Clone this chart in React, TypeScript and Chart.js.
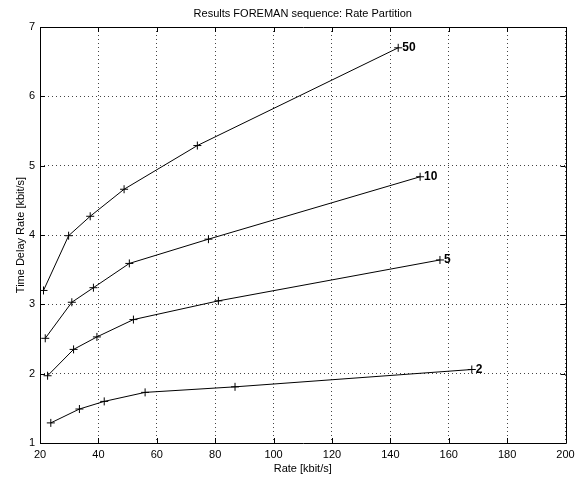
import React, { useEffect, useRef } from "react";
import { Chart, registerables } from "chart.js";

Chart.register(...registerables);

const chartTitle = "Results FOREMAN sequence: Rate Partition";
const xTitle = "Rate [kbit/s]";
const yTitle = "Time Delay Rate [kbit/s]";

const seriesNames = ["50", "10", "5", "2"];

const rate50 = [21.2, 29.8, 37.2, 48.8, 73.9, 142.7];
const delay50 = [3.2, 3.99, 4.27, 4.66, 5.29, 6.7];

const rate10 = [21.8, 30.9, 38.3, 50.6, 77.7, 150.2];
const delay10 = [2.51, 3.03, 3.24, 3.59, 3.94, 4.84];

const rate5 = [22.6, 31.5, 39.5, 52.0, 81.1, 157.0];
const delay5 = [1.97, 2.35, 2.53, 2.78, 3.05, 3.64];

const rate2 = [23.7, 33.5, 42.0, 56.0, 86.8, 167.9];
const delay2 = [1.29, 1.49, 1.6, 1.73, 1.81, 2.06];

const xRange = [20, 200];
const xStep = 20;
const yRange = [1, 7];
const yStep = 1;

const seriesX = [rate50, rate10, rate5, rate2];
const seriesY = [delay50, delay10, delay5, delay2];

const FONT = "'Liberation Sans', Arial, Helvetica, sans-serif";

const decorPlugin = {
  id: "decor",
  afterDraw(chart: any) {
    const ctx = chart.ctx;
    const { left, right, top, bottom } = chart.chartArea;
    const xs = chart.scales.x;
    const ys = chart.scales.y;
    ctx.save();
    ctx.strokeStyle = "#000";
    ctx.lineWidth = 1;
    ctx.beginPath();
    ctx.rect(Math.round(left) + 0.5, Math.round(top) + 0.5, Math.round(right - left), Math.round(bottom - top));
    ctx.stroke();
    const tl = 5;
    ctx.beginPath();
    for (let v = xRange[0]; v <= xRange[1]; v += xStep) {
      const px = Math.round(xs.getPixelForValue(v)) + 0.5;
      ctx.moveTo(px, bottom);
      ctx.lineTo(px, bottom - tl);
      ctx.moveTo(px, top);
      ctx.lineTo(px, top + tl);
    }
    for (let v = yRange[0]; v <= yRange[1]; v += yStep) {
      const py = Math.round(ys.getPixelForValue(v)) + 0.5;
      ctx.moveTo(left, py);
      ctx.lineTo(left + tl, py);
      ctx.moveTo(right, py);
      ctx.lineTo(right - tl, py);
    }
    ctx.stroke();
    ctx.fillStyle = "#000";
    ctx.font = "bold 12px " + FONT;
    ctx.textAlign = "left";
    ctx.textBaseline = "middle";
    seriesNames.forEach((name, i) => {
      const xa = seriesX[i];
      const ya = seriesY[i];
      const px = xs.getPixelForValue(xa[xa.length - 1]);
      const py = ys.getPixelForValue(ya[ya.length - 1]);
      ctx.fillText(name, px + 4, py);
    });
    ctx.font = "11px " + FONT;
    ctx.textAlign = "center";
    ctx.fillText(chartTitle, (left + right) / 2, 14);
    ctx.fillText(xTitle, (left + right) / 2, 469);
    ctx.translate(21, (top + bottom) / 2);
    ctx.rotate(-Math.PI / 2);
    ctx.fillText(yTitle, 0, 0);
    ctx.restore();
  },
};

export default function App() {
  const ref = useRef<HTMLCanvasElement>(null);
  useEffect(() => {
    if (!ref.current) return;
    const datasets = seriesNames.map((name, i) => ({
      label: name,
      data: seriesX[i].map((x, j) => ({ x, y: seriesY[i][j] })),
      showLine: true,
      borderColor: "#000",
      backgroundColor: "#000",
      borderWidth: 1,
      pointStyle: "cross",
      pointRadius: 4,
      pointBorderWidth: 1,
      pointBorderColor: "#000",
      tension: 0,
    }));
    const chart = new Chart(ref.current, {
      type: "scatter",
      data: { datasets },
      options: {
        animation: false,
        responsive: false,
        devicePixelRatio: 1,
        layout: { padding: { top: 27, right: 15.5, left: 0, bottom: 0 } },
        plugins: {
          legend: { display: false },
          title: { display: false },
          tooltip: { enabled: false },
        },
        scales: {
          x: {
            type: "linear",
            min: xRange[0],
            max: xRange[1],
            border: { display: false, dash: [1, 3] },
            grid: { color: "#444", lineWidth: 1, drawTicks: false },
            ticks: {
              stepSize: xStep,
              padding: 5,
              color: "#000",
              font: { family: FONT, size: 11 },
              maxRotation: 0,
            },
            afterFit(scale: any) {
              scale.height = 36;
            },
          },
          y: {
            type: "linear",
            min: yRange[0],
            max: yRange[1],
            border: { display: false, dash: [1, 3] },
            grid: { color: "#444", lineWidth: 1, drawTicks: false },
            ticks: {
              stepSize: yStep,
              padding: 5,
              color: "#000",
              font: { family: FONT, size: 11 },
            },
            afterFit(scale: any) {
              scale.width = 40;
            },
          },
        },
      } as any,
      plugins: [decorPlugin],
    });
    return () => chart.destroy();
  }, []);
  return (
    <div style={{ position: "absolute", left: 0, top: 0, width: 581, height: 479, background: "#fff" }}>
      <canvas ref={ref} width={581} height={479} />
    </div>
  );
}
